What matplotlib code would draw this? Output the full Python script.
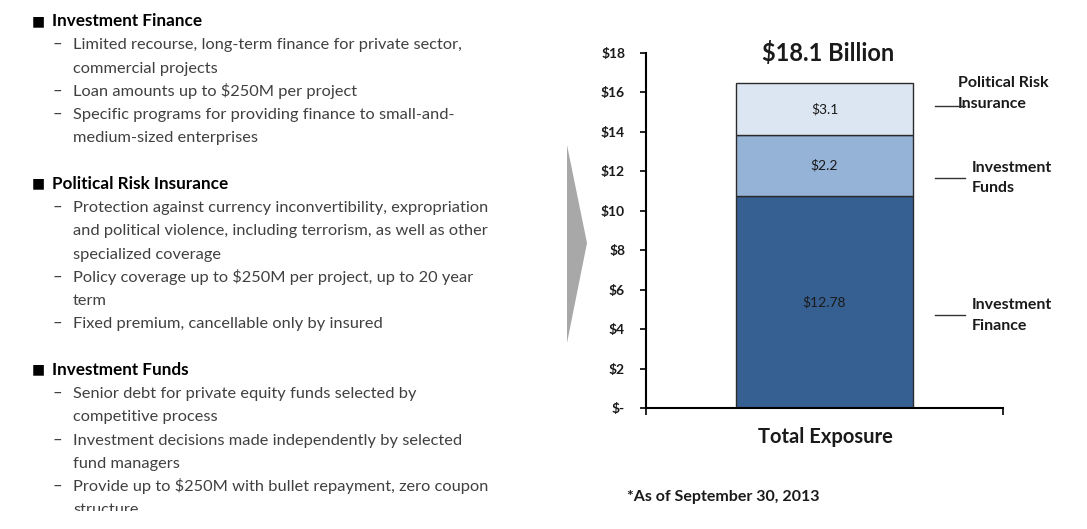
import matplotlib
matplotlib.use("Agg")
import matplotlib.pyplot as plt
from matplotlib.patches import Polygon, Rectangle

plt.rcParams['font.family'] = ['Lato', 'DejaVu Sans']
plt.rcParams['text.parse_math'] = False

# stacked bar data (bottom to top), heights as drawn in the picture
segment_names = ["Investment Finance", "Investment Funds", "Political Risk Insurance"]
segment_heights = [10.77, 3.06, 2.63]
segment_labels = ["$12.78", "$2.2", "$3.1"]
category = "Total Exposure"
total_label = "$18.1 Billion"
footnote = "*As of September 30, 2013"

y_ticks = [0, 2, 4, 6, 8, 10, 12, 14, 16, 18]
y_tick_labels = ["$-", "$2", "$4", "$6", "$8", "$10", "$12", "$14", "$16", "$18"]

callout_texts = ["Investment\nFinance", "Investment\nFunds", "Political Risk\nInsurance"]

sections = [
    ("Investment Finance", [
        ["Limited recourse, long-term finance for private sector,", "commercial projects"],
        ["Loan amounts up to $250M per project"],
        ["Specific programs for providing finance to small-and-", "medium-sized enterprises"],
    ]),
    ("Political Risk Insurance", [
        ["Protection against currency inconvertibility, expropriation",
         "and political violence, including terrorism, as well as other",
         "specialized coverage"],
        ["Policy coverage up to $250M per project, up to 20 year", "term"],
        ["Fixed premium, cancellable only by insured"],
    ]),
    ("Investment Funds", [
        ["Senior debt for private equity funds selected by", "competitive process"],
        ["Investment decisions made independently by selected", "fund managers"],
        ["Provide up to $250M with bullet repayment, zero coupon", "structure"],
    ]),
]

colors = ["#376092", "#95b3d7", "#dce6f2"]

W, H = 1087, 529
fig = plt.figure(figsize=(W / 100, H / 100), dpi=100)


def fx(x):
    return x / W


def fy(y):
    return 1 - y / H


# ---- bar chart ----
ax = fig.add_axes([fx(646), fy(408), fx(1003) - fx(646), fy(53) - fy(408)])
bottom = 0
for h, c, lab in zip(segment_heights, colors, segment_labels):
    ax.bar(0.5, h, width=0.497, bottom=bottom, color=c, edgecolor="#2b2b2b", linewidth=1.0, zorder=2)
    ax.text(0.5, bottom + h / 2, lab, ha="center", va="center", fontsize=10, color="#1a1a1a")
    bottom += h

ax.set_xlim(0, 1)
ax.set_ylim(0, 18)
ax.set_yticks(y_ticks)
ax.set_yticklabels(y_tick_labels, fontsize=10, fontweight="bold", color="#1a1a1a")
ax.set_xticks([0, 1])
ax.set_xticklabels(["", ""])
ax.tick_params(axis="y", direction="out", length=4, width=1.2, pad=11)
ax.tick_params(axis="x", direction="out", length=5, width=1.2)
for s in ["top", "right"]:
    ax.spines[s].set_visible(False)
for s in ["left", "bottom"]:
    ax.spines[s].set_linewidth(1.5)
    ax.spines[s].set_color("black")

fig.text(fx(828), fy(53), total_label, ha="center", va="center", fontsize=17,
         fontweight="bold", color="#1a1a1a")
fig.text(fx(825), fy(437), category, ha="center", va="center", fontsize=14.5,
         fontweight="bold", color="#1a1a1a")

# callouts on the right of the bar
line_y = [4.7, 11.66, 15.3]
text_y = [4.7, 11.66, 15.95]
callout_tx = [0.913, 0.913, 0.874]
for t, ly, ty, tx in zip(callout_texts, line_y, text_y, callout_tx):
    ax.plot([0.81, 0.894], [ly, ly], color="#333333", linewidth=1.0, clip_on=False, zorder=4)
    ax.text(tx, ty, t, ha="left", va="center", fontsize=11.5, fontweight="bold",
            color="#1a1a1a", linespacing=1.6, clip_on=False, zorder=3)

fig.text(fx(627), fy(497), footnote, ha="left", va="center", fontsize=11.5,
         fontweight="bold", color="#1a1a1a")

# ---- grey arrow ----
arrow = Polygon([[fx(567), fy(145)], [fx(587), fy(243)], [fx(567), fy(343)]],
                closed=True, transform=fig.transFigure, facecolor="#a8a8a8",
                edgecolor="none")
fig.patches.append(arrow)

# ---- left bullet text ----
step = 23.25
y = 20
for head, items in sections:
    fig.text(fx(32), fy(y + 5), "\u25a0", ha="left", va="baseline", fontsize=10,
             family="DejaVu Sans", color="black")
    fig.text(fx(52), fy(y + 6), head, ha="left", va="baseline", fontsize=12.3,
             fontweight="bold", color="black")
    y += step
    for item in items:
        for i, line in enumerate(item):
            if i == 0:
                fig.text(fx(53), fy(y + 6), "\u2013", ha="left", va="baseline",
                         fontsize=12, color="#404040")
            fig.text(fx(73), fy(y + 6), line, ha="left", va="baseline",
                     fontsize=11.8, color="#404040")
            y += step
    y += step

# the original slide is cut off at the bottom
fig.patches.append(Rectangle((0, 0), 1, fy(511), transform=fig.transFigure,
                             facecolor="white", edgecolor="none", zorder=10))

fig.savefig("out.png", dpi=100)
